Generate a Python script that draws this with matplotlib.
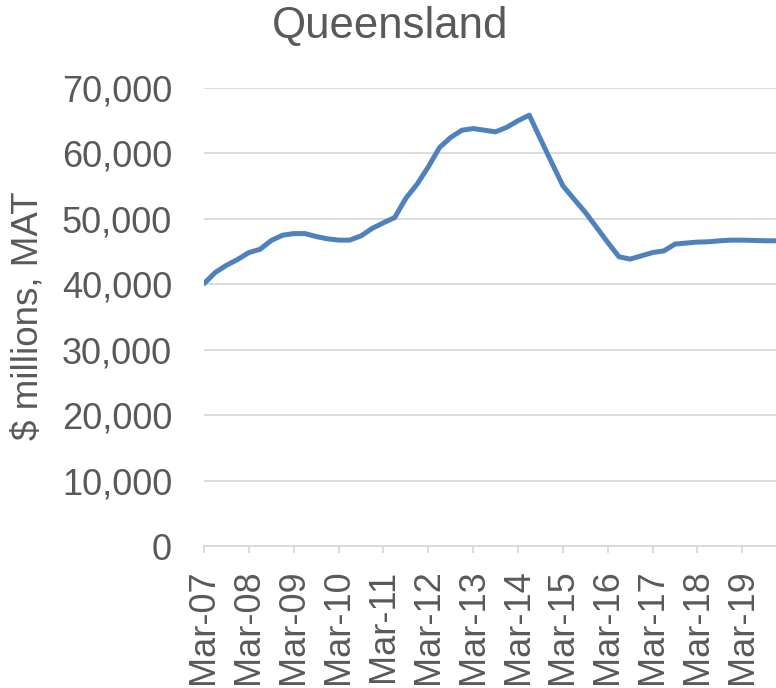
import matplotlib.pyplot as plt
from matplotlib.ticker import FuncFormatter

plt.rcParams['font.family'] = ['Liberation Sans', 'DejaVu Sans']

# quarterly values, Mar-07 .. Dec-19 ($ millions, MAT)
values = [
    40100, 41800, 42900, 43800, 44850, 45350, 46700, 47500,
    47750, 47750, 47300, 46950, 46750, 46750, 47400, 48550,
    49400, 50200, 53150, 55300, 57950, 60900, 62450, 63550,
    63800, 63550, 63300, 64000, 65000, 65850, 62200, 58600,
    55050, 53000, 51000, 48700, 46400, 44200, 43850, 44350,
    44850, 45100, 46150, 46300, 46450, 46500, 46650, 46750,
    46750, 46700, 46650, 46650,
]
tick_labels = ['Mar-%02d' % y for y in range(7, 20)]
yticks = [0, 10000, 20000, 30000, 40000, 50000, 60000, 70000]

grey = '#595959'
grid = '#D9D9D9'

fig = plt.figure(figsize=(7.76, 6.88), dpi=100)
ax = fig.add_axes([204 / 776, 1 - 546 / 688, 1 - 204 / 776, (546 - 88) / 688])

x = list(range(len(values)))
ax.plot(x, values, color='#4F81BD', linewidth=3.6, solid_capstyle='round',
        solid_joinstyle='round', zorder=3)

ax.set_xlim(0, len(values) - 1)
ax.set_ylim(0, 70000)
ax.set_yticks(yticks)
ax.yaxis.set_major_formatter(FuncFormatter(lambda v, p: f'{int(v):,}'))
ax.set_xticks(range(0, len(values), 4))
ax.set_xticklabels(tick_labels, rotation=90)

ax.grid(axis='y', color=grid, linewidth=1.3)
ax.set_axisbelow(True)
for s in ['top', 'right', 'left']:
    ax.spines[s].set_visible(False)
ax.spines['bottom'].set_color(grid)
ax.spines['bottom'].set_linewidth(1.3)

ax.tick_params(axis='y', length=0, pad=23, labelsize=26, labelcolor=grey)
ax.tick_params(axis='x', length=5, width=1.3, color=grid, pad=12,
               labelsize=26, labelcolor=grey)

fig.text(390 / 776, 1 - 26 / 688, 'Queensland', ha='center', va='center',
         fontsize=31.5, color=grey)
fig.text(28 / 776, 1 - 316 / 688, '$ millions, MAT', rotation=90,
         ha='center', va='center', fontsize=26.5, color=grey)

fig.savefig('out.png', dpi=100)
